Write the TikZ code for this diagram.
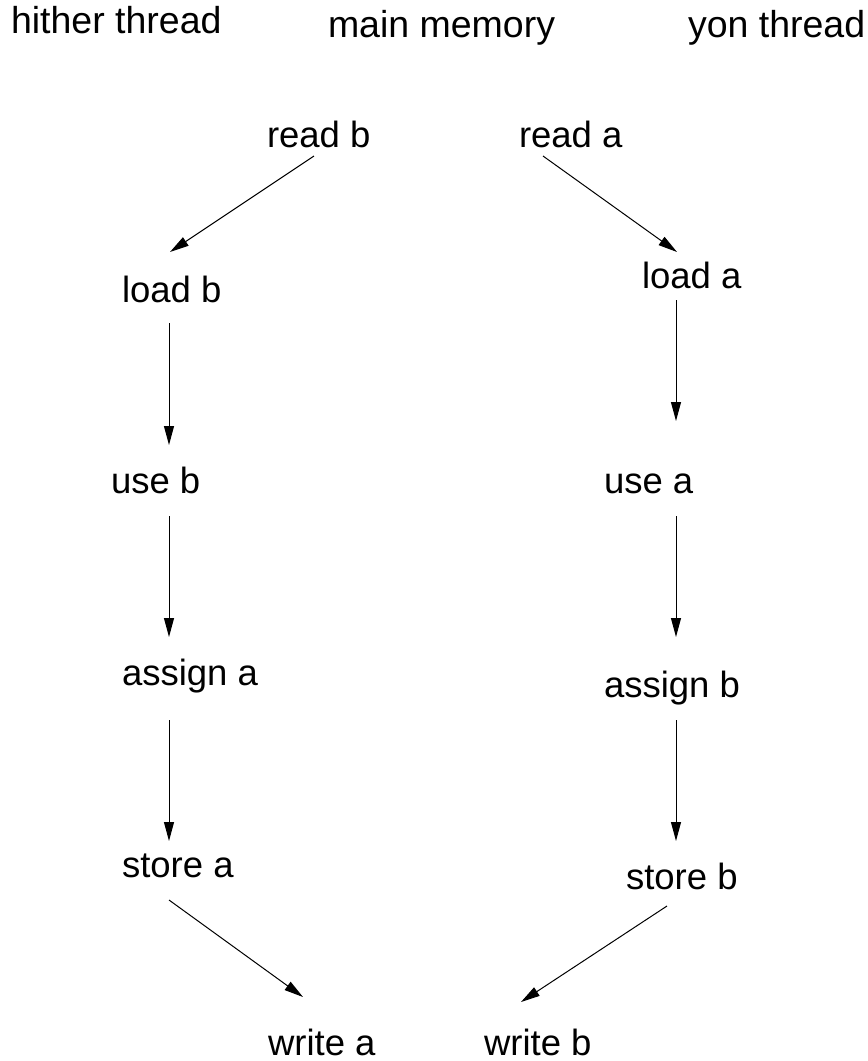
\documentclass[tikz,border=0pt]{standalone}
\usepackage{fontspec}
\setmainfont{Liberation Sans}
\usetikzlibrary{arrows.meta}
\begin{document}
\begin{tikzpicture}[x=1pt,y=-1pt,
  lbl/.style={anchor=base west,inner sep=0pt,outer sep=0pt,
    font=\fontsize{36.5}{40}\selectfont},
  head/.style={lbl,font=\fontsize{37.5}{41}\selectfont},
  arr/.style={line width=1pt,-{Triangle[length=19pt,width=10pt]}}]
\fill[white] (0,0) rectangle (868,1061);
\useasboundingbox (0,0) rectangle (868,1061);

% column headings
\node[head] (hh) at (11,33) {hither thread};
\node[head] (mm) at (328,37) {main memory};
\node[head] (yh) at (688,37) {yon thread};

% memory reads
\node[lbl] (rb) at (267,147) {read b};
\node[lbl] (ra) at (519,147) {read a};

% hither thread actions
\node[lbl] (lb) at (122,302) {load b};
\node[lbl] (ub) at (111,493) {use b};
\node[lbl] (aa) at (122,685) {assign a};
\node[lbl] (sa) at (122,877) {store a};

% yon thread actions
\node[lbl] (la) at (642,288) {load a};
\node[lbl] (ua) at (604,493) {use a};
\node[lbl] (ab) at (604,697) {assign b};
\node[lbl] (sb) at (626,889) {store b};

% memory writes
\node[lbl] (wa) at (268,1055) {write a};
\node[lbl] (wb) at (484,1055) {write b};

% hither side
\draw[arr] ([shift={(47,9)}]rb.base west) -- ([shift={(48,-50)}]lb.base west);
\draw[arr] ([shift={(47,21)}]lb.base west) -- ([shift={(58,-48)}]ub.base west);
\draw[arr] ([shift={(58,23)}]ub.base west) -- ([shift={(47,-48)}]aa.base west);
\draw[arr] ([shift={(47,35)}]aa.base west) -- ([shift={(47,-36)}]sa.base west);
\draw[arr] ([shift={(47,23)}]sa.base west) -- ([shift={(35,-58)}]wa.base west);

% yon side
\draw[arr] ([shift={(24,9)}]ra.base west) -- ([shift={(35,-36)}]la.base west);
\draw[arr] ([shift={(34,12)}]la.base west) -- ([shift={(72,-72)}]ua.base west);
\draw[arr] ([shift={(72,23)}]ua.base west) -- ([shift={(72,-60)}]ab.base west);
\draw[arr] ([shift={(72,23)}]ab.base west) -- ([shift={(50,-48)}]sb.base west);
\draw[arr] ([shift={(41,17)}]sb.base west) -- ([shift={(37,-53)}]wb.base west);
\end{tikzpicture}
\end{document}
